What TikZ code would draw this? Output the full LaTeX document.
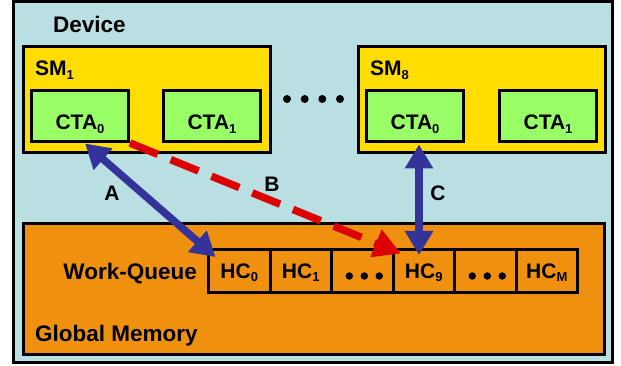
\documentclass[tikz,border=0pt]{standalone}
\usepackage{fontspec}
\setmainfont{Liberation Sans}
\usetikzlibrary{arrows.meta,calc}

\definecolor{devbg}{HTML}{B9DFE3}
\definecolor{smfill}{HTML}{FFDD00}
\definecolor{ctafill}{HTML}{99FF66}
\definecolor{memfill}{HTML}{F0900F}
\definecolor{arrblue}{HTML}{333399}
\definecolor{arrred}{HTML}{DD0000}

% lowered, smaller index
\newcommand{\sbs}[1]{\raisebox{-3.5pt}{\fontsize{13}{13}\selectfont #1}}

\begin{document}
\begin{tikzpicture}[x=1pt,y=-1pt,
  box/.style={draw=black, line width=3pt, inner sep=0pt, outer sep=0pt},
  smbox/.style={box, fill=smfill, minimum width=247pt, minimum height=106pt},
  ctabox/.style={box, fill=ctafill, minimum width=97pt, minimum height=51pt},
  cell/.style={box, fill=memfill, minimum width=61.5pt, minimum height=43pt},
  lbl/.style={inner sep=0pt, font=\fontsize{21}{21}\selectfont\bfseries},
  biglbl/.style={inner sep=0pt, font=\fontsize{22.5}{22.5}\selectfont\bfseries},
  dot/.style={circle, fill=black, inner sep=0pt, minimum size=8pt},
  bluearrow/.style={draw=arrblue, line width=7.5pt,
    {Triangle[length=24pt,width=27pt]}-{Triangle[length=24pt,width=27pt]}},
  redarrow/.style={draw=arrred, line width=7.5pt, dash pattern=on 30pt off 14pt,
    -{Triangle[length=27pt,width=28pt]}}
]
\useasboundingbox (0,0) rectangle (621,366);

% device frame
\node[box, fill=devbg, minimum width=599pt, minimum height=361pt] (device) at (313,182) {};
\node[biglbl, anchor=base west] (devlbl) at (53,33) {Device};

% streaming multiprocessors
\node[smbox] (sm1) at (147,99.5) {};
\node[lbl, anchor=base west] (sm1lbl) at (35,76) {SM\sbs{1}};
\node[ctabox] (ctaA) at (80,116) {};
\node[ctabox] (ctaB) at (212,116) {};
\node[lbl, anchor=base] (ctaAlbl) at (80,130) {CTA\sbs{0}};
\node[lbl, anchor=base] (ctaBlbl) at (212,130) {CTA\sbs{1}};

\foreach \i/\x in {1/287,2/304.7,3/322.3,4/340}
  \node[dot] (smdot\i) at (\x,99) {};

\node[smbox] (sm8) at (481.5,99.5) {};
\node[lbl, anchor=base west] (sm8lbl) at (370,76) {SM\sbs{8}};
\node[ctabox] (ctaC) at (415,116) {};
\node[ctabox] (ctaD) at (548,116) {};
\node[lbl, anchor=base] (ctaClbl) at (415,130) {CTA\sbs{0}};
\node[lbl, anchor=base] (ctaDlbl) at (548,130) {CTA\sbs{1}};

% global memory with the work queue
\node[box, fill=memfill, minimum width=581pt, minimum height=131pt] (gmem) at (314,289) {};
\node[biglbl, anchor=base west] (gmemlbl) at (35,341) {Global Memory};
\node[biglbl, anchor=base east] (wqlbl) at (197,279) {Work-Queue};

\node[cell] (hc0) at (239.25,271) {};
\node[cell] (hc1) at (300.75,271) {};
\node[cell] (hcd1) at (362.25,271) {};
\node[cell] (hc9) at (423.75,271) {};
\node[cell] (hcd2) at (485.25,271) {};
\node[cell] (hcm) at (546.75,271) {};
\node[lbl, anchor=base] (hc0lbl) at (239.25,278) {HC\sbs{0}};
\node[lbl, anchor=base] (hc1lbl) at (300.75,278) {HC\sbs{1}};
\node[lbl, anchor=base] (hc9lbl) at (423.75,278) {HC\sbs{9}};
\node[lbl, anchor=base] (hcmlbl) at (546.75,278) {HC\sbs{M}};
\foreach \c in {hcd1,hcd2}
  \foreach \k/\dx in {a/-13,b/2,c/17}
    \node[dot, minimum size=7.5pt] (\c\k) at ($(\c.center)+(\dx,5)$) {};

% accesses
\draw[redarrow] ($(ctaA.south east)+(1.5,1.5)$) -- ($(hc9.north west)+(8,4)$);
\draw[bluearrow] ($(ctaA.south)+(5,2)$) -- ($(hc0.north west)+(7,7.5)$);
\draw[bluearrow] ($(ctaC.south)+(4,3)$) -- ($(ctaC.south |- hc9.north)+(4,5.5)$);

\node[lbl] (labA) at (112,193) {A};
\node[lbl] (labB) at (272,184) {B};
\node[lbl] (labC) at (438,193) {C};
\end{tikzpicture}
\end{document}
